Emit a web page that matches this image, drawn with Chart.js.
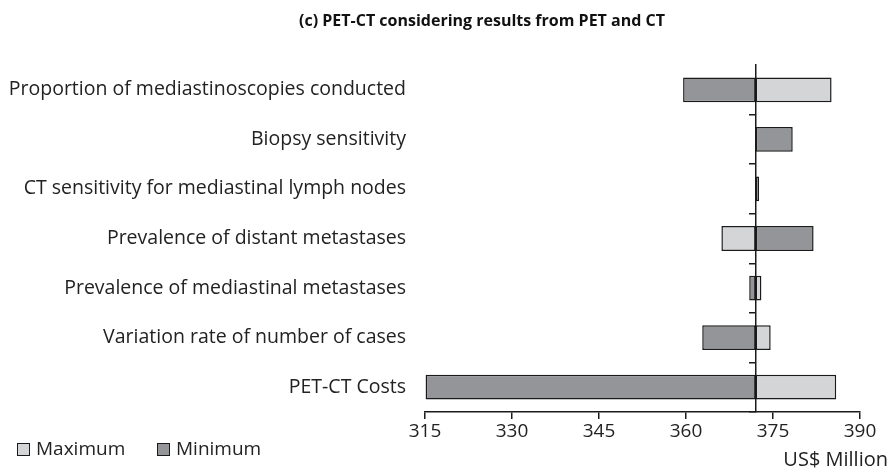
<!DOCTYPE html>
<html>
<head>
<meta charset="utf-8">
<script src="https://cdn.jsdelivr.net/npm/chart.js@4.4.1/dist/chart.umd.min.js"></script>
<style>
  html, body { margin: 0; padding: 0; background: #fff; }
  #wrap { width: 896px; height: 474px; position: relative; }
</style>
</head>
<body>
<div id="wrap"><canvas id="tornado"></canvas></div>
<script>
// dados (US$ milhoes)
var categorias = [
    'Proportion of mediastinoscopies conducted',
    'Biopsy sensitivity',
    'CT sensitivity for mediastinal lymph nodes',
    'Prevalence of distant metastases',
    'Prevalence of mediastinal metastases',
    'Variation rate of number of cases',
    'PET-CT Costs'
];
var valorBase = 372;
var maximo = [385.1, 372, 372, 366.1, 373.0, 374.6, 385.9];
var minimo = [359.5, 378.4, 372.6, 382.0, 370.9, 362.8, 315.1];
var ticksX = [315, 330, 345, 360, 375, 390];
var titulo = '(c) PET-CT considering results from PET and CT';

var fonte = '"Open Sans", "DejaVu Sans", sans-serif';
var corEscura = '#949599';
var corClara = '#d4d5d7';
var corBorda = '#1a1a1a';
var corTexto = '#222';

// titulo, legenda e titulo do eixo desenhados no canvas
var extrasPlugin = {
    id: 'extras',
    afterDraw: function(chart) {
        var ctx = chart.ctx;
        ctx.save();
        ctx.textBaseline = 'middle';

        ctx.font = 'bold 16px ' + fonte;
        ctx.fillStyle = '#111';
        ctx.textAlign = 'center';
        ctx.fillText(titulo, 482, 21);

        ctx.font = '19px ' + fonte;
        var x = 17;
        chart.data.datasets.forEach(function(ds) {
            ctx.fillStyle = ds.backgroundColor;
            ctx.fillRect(x, 443, 12, 12);
            ctx.strokeStyle = corBorda;
            ctx.lineWidth = 1;
            ctx.strokeRect(x + 0.5, 443.5, 12, 12);
            ctx.fillStyle = corTexto;
            ctx.textAlign = 'left';
            ctx.fillText(ds.label, x + 19, 450);
            x += 140;
        });

        ctx.font = '20px ' + fonte;
        ctx.textAlign = 'right';
        ctx.fillText('US$ Million', 888, 460);
        ctx.restore();
    }
};

var ctx = document.getElementById('tornado').getContext('2d');
new Chart(ctx, {
    type: 'bar',
    data: {
        labels: categorias,
        datasets: [
            {
                label: 'Maximum',
                data: maximo.map(function(v) { return [valorBase, v]; }),
                backgroundColor: corClara,
                borderColor: corBorda,
                borderWidth: 1.5,
                borderSkipped: false,
                yAxisID: 'y'
            },
            {
                label: 'Minimum',
                data: minimo.map(function(v) { return [valorBase, v]; }),
                backgroundColor: corEscura,
                borderColor: corBorda,
                borderWidth: 1.5,
                borderSkipped: false,
                yAxisID: 'y'
            }
        ]
    },
    options: {
        indexAxis: 'y',
        responsive: true,
        maintainAspectRatio: false,
        animation: false,
        grouped: false,
        categoryPercentage: 1,
        barPercentage: 0.5,
        layout: { padding: { left: 0, right: 36, top: 65, bottom: 0 } },
        plugins: {
            legend: { display: false },
            tooltip: { enabled: false },
            title: { display: false }
        },
        scales: {
            x: {
                type: 'linear',
                min: 315,
                max: 390,
                afterBuildTicks: function(scale) {
                    scale.ticks = ticksX.map(function(v) { return { value: v }; });
                },
                afterFit: function(scale) { scale.height = 62; },
                grid: { display: true, drawOnChartArea: false, drawTicks: true, tickLength: 7, color: corBorda, lineWidth: 1.5 },
                border: { display: true, color: corBorda, width: 1.5 },
                ticks: { color: corTexto, font: { family: fonte, size: 19 }, padding: 1 }
            },
            y: {
                type: 'category',
                position: 'left',
                afterFit: function(scale) { scale.width = 425; },
                grid: { display: false },
                border: { display: false },
                ticks: { color: corTexto, font: { family: fonte, size: 19.5 }, padding: 11 }
            },
            y2: {
                type: 'category',
                labels: categorias,
                position: { x: valorBase },
                offset: true,
                grid: {
                    display: true,
                    offset: true,
                    drawOnChartArea: false,
                    drawTicks: true,
                    tickLength: 6,
                    lineWidth: 1.5,
                    color: function(c) {
                        return (c.index === 0 || c.index === categorias.length) ? 'rgba(0,0,0,0)' : corBorda;
                    }
                },
                border: { display: true, color: corBorda, width: 1.5 },
                ticks: { display: false }
            }
        }
    },
    plugins: [extrasPlugin]
});
</script>
</body>
</html>
